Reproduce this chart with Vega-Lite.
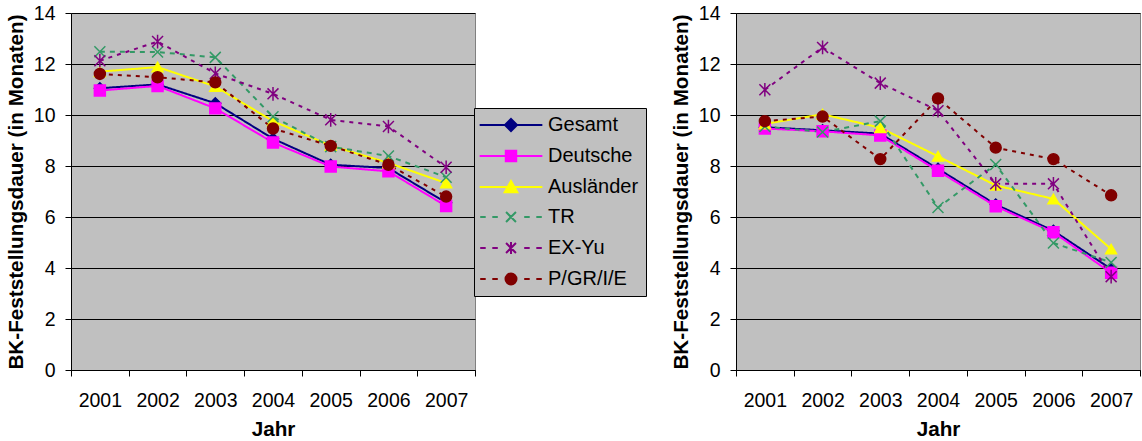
{
  "$schema": "https://vega.github.io/schema/vega-lite/v6.json",
  "background": "white",
  "padding": {"left": 4, "top": 2, "right": 0, "bottom": 0},
  "bounds": "flush",
  "spacing": 130,
  "config": {
    "font": "Liberation Sans",
    "view": {"fill": "#C0C0C0", "stroke": "#808080", "strokeWidth": 1},
    "axis": {"labelFont": "Liberation Sans", "labelColor": "#000", "titleColor": "#000", "titleFont": "Liberation Sans", "domainColor": "#000", "tickColor": "#000", "labelFontSize": 19.5, "titleFontSize": 20.7, "titleFontWeight": "bold", "tickSize": 6}
  },
  "resolve": {
    "scale": {"x": "independent", "y": "independent", "color": "independent", "shape": "independent", "stroke": "independent", "strokeDash": "independent"}
  },
  "datasets": {
    "links": [
      {"Jahr": "2001", "Reihe": "Gesamt", "Wert": 11.05}, {"Jahr": "2002", "Reihe": "Gesamt", "Wert": 11.2}, {"Jahr": "2003", "Reihe": "Gesamt", "Wert": 10.46}, {"Jahr": "2004", "Reihe": "Gesamt", "Wert": 9.07}, {"Jahr": "2005", "Reihe": "Gesamt", "Wert": 8.05}, {"Jahr": "2006", "Reihe": "Gesamt", "Wert": 7.92}, {"Jahr": "2007", "Reihe": "Gesamt", "Wert": 6.56},
      {"Jahr": "2001", "Reihe": "Deutsche", "Wert": 10.96}, {"Jahr": "2002", "Reihe": "Deutsche", "Wert": 11.14}, {"Jahr": "2003", "Reihe": "Deutsche", "Wert": 10.26}, {"Jahr": "2004", "Reihe": "Deutsche", "Wert": 8.92}, {"Jahr": "2005", "Reihe": "Deutsche", "Wert": 7.98}, {"Jahr": "2006", "Reihe": "Deutsche", "Wert": 7.79}, {"Jahr": "2007", "Reihe": "Deutsche", "Wert": 6.43},
      {"Jahr": "2001", "Reihe": "Ausländer", "Wert": 11.7}, {"Jahr": "2002", "Reihe": "Ausländer", "Wert": 11.88}, {"Jahr": "2003", "Reihe": "Ausländer", "Wert": 11.12}, {"Jahr": "2004", "Reihe": "Ausländer", "Wert": 9.76}, {"Jahr": "2005", "Reihe": "Ausländer", "Wert": 8.8}, {"Jahr": "2006", "Reihe": "Ausländer", "Wert": 8.12}, {"Jahr": "2007", "Reihe": "Ausländer", "Wert": 7.33},
      {"Jahr": "2001", "Reihe": "TR", "Wert": 12.48}, {"Jahr": "2002", "Reihe": "TR", "Wert": 12.47}, {"Jahr": "2003", "Reihe": "TR", "Wert": 12.26}, {"Jahr": "2004", "Reihe": "TR", "Wert": 9.93}, {"Jahr": "2005", "Reihe": "TR", "Wert": 8.76}, {"Jahr": "2006", "Reihe": "TR", "Wert": 8.39}, {"Jahr": "2007", "Reihe": "TR", "Wert": 7.56},
      {"Jahr": "2001", "Reihe": "EX-Yu", "Wert": 12.13}, {"Jahr": "2002", "Reihe": "EX-Yu", "Wert": 12.88}, {"Jahr": "2003", "Reihe": "EX-Yu", "Wert": 11.63}, {"Jahr": "2004", "Reihe": "EX-Yu", "Wert": 10.83}, {"Jahr": "2005", "Reihe": "EX-Yu", "Wert": 9.81}, {"Jahr": "2006", "Reihe": "EX-Yu", "Wert": 9.55}, {"Jahr": "2007", "Reihe": "EX-Yu", "Wert": 7.95},
      {"Jahr": "2001", "Reihe": "P/GR/I/E", "Wert": 11.61}, {"Jahr": "2002", "Reihe": "P/GR/I/E", "Wert": 11.48}, {"Jahr": "2003", "Reihe": "P/GR/I/E", "Wert": 11.28}, {"Jahr": "2004", "Reihe": "P/GR/I/E", "Wert": 9.47}, {"Jahr": "2005", "Reihe": "P/GR/I/E", "Wert": 8.79}, {"Jahr": "2006", "Reihe": "P/GR/I/E", "Wert": 8.05}, {"Jahr": "2007", "Reihe": "P/GR/I/E", "Wert": 6.8}
    ],
    "rechts": [
      {"Jahr": "2001", "Reihe": "Gesamt", "Wert": 9.52}, {"Jahr": "2002", "Reihe": "Gesamt", "Wert": 9.4}, {"Jahr": "2003", "Reihe": "Gesamt", "Wert": 9.27}, {"Jahr": "2004", "Reihe": "Gesamt", "Wert": 7.89}, {"Jahr": "2005", "Reihe": "Gesamt", "Wert": 6.49}, {"Jahr": "2006", "Reihe": "Gesamt", "Wert": 5.46}, {"Jahr": "2007", "Reihe": "Gesamt", "Wert": 3.96},
      {"Jahr": "2001", "Reihe": "Deutsche", "Wert": 9.47}, {"Jahr": "2002", "Reihe": "Deutsche", "Wert": 9.36}, {"Jahr": "2003", "Reihe": "Deutsche", "Wert": 9.2}, {"Jahr": "2004", "Reihe": "Deutsche", "Wert": 7.81}, {"Jahr": "2005", "Reihe": "Deutsche", "Wert": 6.42}, {"Jahr": "2006", "Reihe": "Deutsche", "Wert": 5.4}, {"Jahr": "2007", "Reihe": "Deutsche", "Wert": 3.81},
      {"Jahr": "2001", "Reihe": "Ausländer", "Wert": 9.65}, {"Jahr": "2002", "Reihe": "Ausländer", "Wert": 10.03}, {"Jahr": "2003", "Reihe": "Ausländer", "Wert": 9.5}, {"Jahr": "2004", "Reihe": "Ausländer", "Wert": 8.38}, {"Jahr": "2005", "Reihe": "Ausländer", "Wert": 7.24}, {"Jahr": "2006", "Reihe": "Ausländer", "Wert": 6.71}, {"Jahr": "2007", "Reihe": "Ausländer", "Wert": 4.74},
      {"Jahr": "2001", "Reihe": "TR", "Wert": 9.55}, {"Jahr": "2002", "Reihe": "TR", "Wert": 9.33}, {"Jahr": "2003", "Reihe": "TR", "Wert": 9.76}, {"Jahr": "2004", "Reihe": "TR", "Wert": 6.37}, {"Jahr": "2005", "Reihe": "TR", "Wert": 8.06}, {"Jahr": "2006", "Reihe": "TR", "Wert": 4.98}, {"Jahr": "2007", "Reihe": "TR", "Wert": 4.22},
      {"Jahr": "2001", "Reihe": "EX-Yu", "Wert": 10.99}, {"Jahr": "2002", "Reihe": "EX-Yu", "Wert": 12.65}, {"Jahr": "2003", "Reihe": "EX-Yu", "Wert": 11.25}, {"Jahr": "2004", "Reihe": "EX-Yu", "Wert": 10.17}, {"Jahr": "2005", "Reihe": "EX-Yu", "Wert": 7.3}, {"Jahr": "2006", "Reihe": "EX-Yu", "Wert": 7.3}, {"Jahr": "2007", "Reihe": "EX-Yu", "Wert": 3.66},
      {"Jahr": "2001", "Reihe": "P/GR/I/E", "Wert": 9.76}, {"Jahr": "2002", "Reihe": "P/GR/I/E", "Wert": 9.94}, {"Jahr": "2003", "Reihe": "P/GR/I/E", "Wert": 8.27}, {"Jahr": "2004", "Reihe": "P/GR/I/E", "Wert": 10.65}, {"Jahr": "2005", "Reihe": "P/GR/I/E", "Wert": 8.72}, {"Jahr": "2006", "Reihe": "P/GR/I/E", "Wert": 8.27}, {"Jahr": "2007", "Reihe": "P/GR/I/E", "Wert": 6.85}
    ]
  },
  "hconcat": [
    {
      "width": 404,
      "height": 357,
      "data": {"name": "links"},
      "encoding": {
        "x": {"field": "Jahr", "type": "ordinal", "bandPosition": 0.5, "scale": {"type": "band", "paddingInner": 0, "paddingOuter": 0}, "title": "Jahr", "axis": {"labelAngle": 0, "tickBand": "extent", "labelPadding": 15, "titlePadding": 10, "grid": false}},
        "y": {"field": "Wert", "type": "quantitative", "scale": {"domain": [0, 14], "nice": false}, "title": "BK-Feststellungsdauer (in Monaten)", "axis": {"values": [0, 2, 4, 6, 8, 10, 12, 14], "labelPadding": 10, "labelFlush": false, "labelOverlap": false, "titlePadding": 7, "grid": true, "gridColor": "#000", "gridOpacity": 1, "gridWidth": 1}}
      },
      "layer": [
        {
          "mark": {"type": "line", "strokeWidth": 2},
          "encoding": {
            "color": {"field": "Reihe", "type": "nominal", "scale": {"domain": ["Gesamt", "Deutsche", "Ausländer", "TR", "EX-Yu", "P/GR/I/E"], "range": ["#000080", "#FF00FF", "#FFFF00", "#339966", "#800080", "#800000"]}, "legend": null},
            "strokeDash": {"field": "Reihe", "type": "nominal", "scale": {"domain": ["Gesamt", "Deutsche", "Ausländer", "TR", "EX-Yu", "P/GR/I/E"], "range": [[1, 0], [1, 0], [1, 0], [5, 5], [4, 5], [4, 5]]}, "legend": null}
          }
        },
        {
          "mark": {"type": "point", "filled": true, "size": 120, "opacity": 1, "strokeWidth": 1.5},
          "encoding": {
            "color": {"field": "Reihe", "type": "nominal", "legend": null},
            "stroke": {"field": "Reihe", "type": "nominal", "scale": {"domain": ["Gesamt", "Deutsche", "Ausländer", "TR", "EX-Yu", "P/GR/I/E"], "range": ["#000080", "#FF00FF", "#FFFF00", "#339966", "#800080", "#800000"]}, "legend": null},
            "shape": {"field": "Reihe", "type": "nominal", "scale": {"domain": ["Gesamt", "Deutsche", "Ausländer", "TR", "EX-Yu", "P/GR/I/E"], "range": ["diamond", "square", "triangle-up", "M-1,-1L1,1M-1,1L1,-1", "M-1,-1L1,1M-1,1L1,-1M0,-1.25L0,1.25", "circle"]}, "legend": null}
          }
        }
      ]
    },
    {
      "width": 1,
      "height": 357,
      "view": {"fill": "transparent", "stroke": "transparent"},
      "data": {"name": "links"},
      "transform": [{"filter": "datum.Wert < 0"}],
      "mark": {"type": "point", "filled": true, "size": 121, "opacity": 1, "strokeWidth": 2},
      "encoding": {
        "color": {"field": "Reihe", "type": "nominal", "scale": {"domain": ["Gesamt", "Deutsche", "Ausländer", "TR", "EX-Yu", "P/GR/I/E"], "range": ["#000080", "#FF00FF", "#FFFF00", "#339966", "#800080", "#800000"]},
          "legend": {"title": null, "orient": "none", "legendX": -131, "legendY": 95, "labelFont": "Liberation Sans", "labelFontSize": 20, "labelColor": "#000", "labelLimit": 300, "fillColor": "#C0C0C0", "strokeColor": "#000", "padding": 7, "rowPadding": 10, "symbolSize": 121, "symbolStrokeWidth": 2, "symbolOffset": 20, "labelOffset": 27, "symbolOpacity": 1}},
        "stroke": {"field": "Reihe", "type": "nominal", "scale": {"domain": ["Gesamt", "Deutsche", "Ausländer", "TR", "EX-Yu", "P/GR/I/E"], "range": ["#000080", "#FF00FF", "#FFFF00", "#339966", "#800080", "#800000"]},
          "legend": {"title": null, "orient": "none", "legendX": -131, "legendY": 95, "labelFont": "Liberation Sans", "labelFontSize": 20, "labelColor": "#000", "labelLimit": 300, "fillColor": "#C0C0C0", "strokeColor": "#000", "padding": 7, "rowPadding": 10, "symbolSize": 121, "symbolStrokeWidth": 2, "symbolOffset": 20, "labelOffset": 27, "symbolOpacity": 1}},
        "shape": {"field": "Reihe", "type": "nominal", "scale": {"domain": ["Gesamt", "Deutsche", "Ausländer", "TR", "EX-Yu", "P/GR/I/E"], "range": ["M-5.7,0H5.7M0,-1.1L1.1,0L0,1.1L-1.1,0Z", "M-5.7,0H5.7M-0.95,-0.95H0.95V0.95H-0.95Z", "M-5.7,0H5.7M0,-1.1L1.15,0.95H-1.15Z", "M-5.6,0H-4.6M-3.4,0H-2.4M2.4,0H3.4M4.6,0H5.6M-0.9,-0.9L0.9,0.9M-0.9,0.9L0.9,-0.9", "M-5.6,0H-4.6M-3.4,0H-2.4M2.4,0H3.4M4.6,0H5.6M-0.9,-0.9L0.9,0.9M-0.9,0.9L0.9,-0.9M0,-1.1L0,1.1", "M-5.6,0H-4.6M-3.4,0H-2.4M2.4,0H3.4M4.6,0H5.6M-1,0A1,1,0,1,0,1,0A1,1,0,1,0,-1,0Z"]},
          "legend": {"title": null, "orient": "none", "legendX": -131, "legendY": 95, "labelFont": "Liberation Sans", "labelFontSize": 20, "labelColor": "#000", "labelLimit": 300, "fillColor": "#C0C0C0", "strokeColor": "#000", "padding": 7, "rowPadding": 10, "symbolSize": 121, "symbolStrokeWidth": 2, "symbolOffset": 20, "labelOffset": 27, "symbolOpacity": 1}}
      }
    },
    {
      "width": 404,
      "height": 357,
      "data": {"name": "rechts"},
      "encoding": {
        "x": {"field": "Jahr", "type": "ordinal", "bandPosition": 0.5, "scale": {"type": "band", "paddingInner": 0, "paddingOuter": 0}, "title": "Jahr", "axis": {"labelAngle": 0, "tickBand": "extent", "labelPadding": 15, "titlePadding": 10, "grid": false}},
        "y": {"field": "Wert", "type": "quantitative", "scale": {"domain": [0, 14], "nice": false}, "title": "BK-Feststellungsdauer (in Monaten)", "axis": {"values": [0, 2, 4, 6, 8, 10, 12, 14], "labelPadding": 10, "labelFlush": false, "labelOverlap": false, "titlePadding": 7, "grid": true, "gridColor": "#000", "gridOpacity": 1, "gridWidth": 1}}
      },
      "layer": [
        {
          "mark": {"type": "line", "strokeWidth": 2},
          "encoding": {
            "color": {"field": "Reihe", "type": "nominal", "scale": {"domain": ["Gesamt", "Deutsche", "Ausländer", "TR", "EX-Yu", "P/GR/I/E"], "range": ["#000080", "#FF00FF", "#FFFF00", "#339966", "#800080", "#800000"]}, "legend": null},
            "strokeDash": {"field": "Reihe", "type": "nominal", "scale": {"domain": ["Gesamt", "Deutsche", "Ausländer", "TR", "EX-Yu", "P/GR/I/E"], "range": [[1, 0], [1, 0], [1, 0], [5, 5], [4, 5], [4, 5]]}, "legend": null}
          }
        },
        {
          "mark": {"type": "point", "filled": true, "size": 120, "opacity": 1, "strokeWidth": 1.5},
          "encoding": {
            "color": {"field": "Reihe", "type": "nominal", "legend": null},
            "stroke": {"field": "Reihe", "type": "nominal", "scale": {"domain": ["Gesamt", "Deutsche", "Ausländer", "TR", "EX-Yu", "P/GR/I/E"], "range": ["#000080", "#FF00FF", "#FFFF00", "#339966", "#800080", "#800000"]}, "legend": null},
            "shape": {"field": "Reihe", "type": "nominal", "scale": {"domain": ["Gesamt", "Deutsche", "Ausländer", "TR", "EX-Yu", "P/GR/I/E"], "range": ["diamond", "square", "triangle-up", "M-1,-1L1,1M-1,1L1,-1", "M-1,-1L1,1M-1,1L1,-1M0,-1.25L0,1.25", "circle"]}, "legend": null}
          }
        }
      ]
    }
  ]
}
